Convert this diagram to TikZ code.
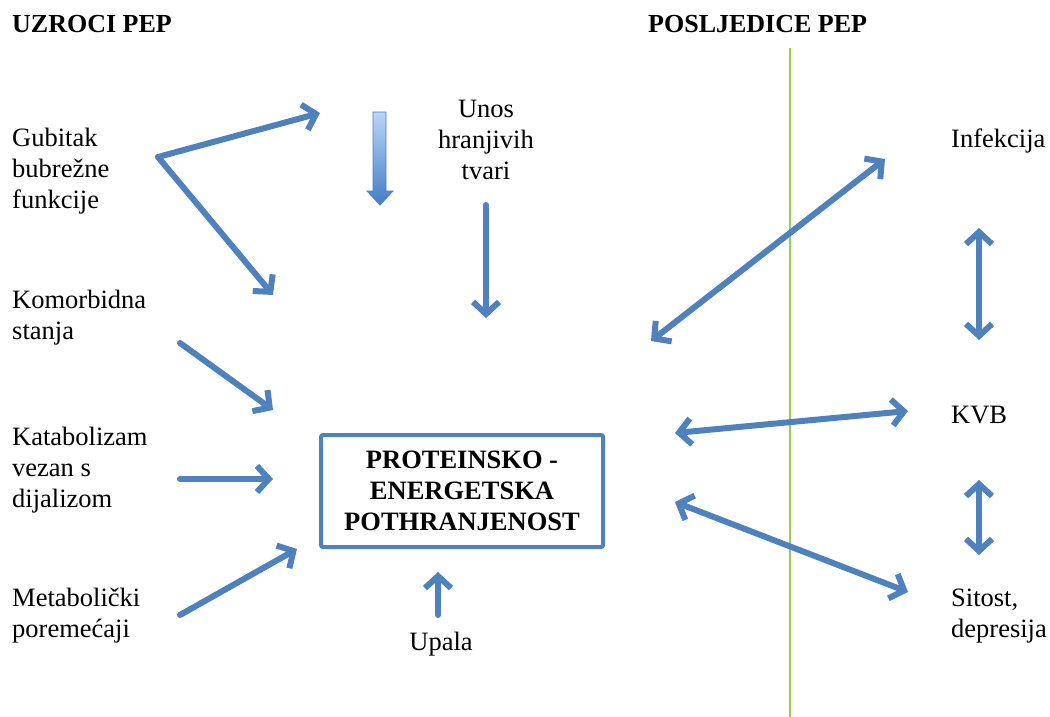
\documentclass[tikz,border=0pt]{standalone}
\usepackage{fontspec}
\setmainfont{Liberation Serif}
\usetikzlibrary{arrows.meta, positioning}

\definecolor{pepblue}{RGB}{79,129,189}
\definecolor{pepgreen}{RGB}{146,208,80}
\definecolor{pale}{RGB}{185,214,248}
\definecolor{midblue}{RGB}{135,182,238}
\definecolor{deepblue}{RGB}{66,124,200}

\begin{document}
\begin{tikzpicture}[
        x=1pt, y=-1pt,
        txt/.style={font=\fontsize{26.5}{31}\selectfont, align=left, anchor=west, inner sep=0pt},
        heading/.style={font=\fontsize{26}{31}\selectfont\bfseries, anchor=west, inner sep=0pt},
        link/.style={draw=pepblue, line width=6pt, line cap=round, line join=round,
            preaction={draw=black, opacity=0.15, transform canvas={shift={(1.5pt,-2pt)}}},
            -{Straight Barb[length=12pt,width=26pt]}},
        both/.style={link, {Straight Barb[length=12pt,width=26pt]}-{Straight Barb[length=12pt,width=26pt]}}
    ]
    \useasboundingbox (0,0) rectangle (1050,717);

    % Headings
    \node[heading] (uzroci) at (12,24) {UZROCI PEP};
    \node[heading] (posljedice) at (648,24) {POSLJEDICE PEP};

    % Dividing line
    \coordinate (divtop) at (790,48);
    \coordinate (divbot) at (790,717);
    \draw[pepgreen, line width=1.3pt] (divtop) -- (divbot);

    % Causes (left)
    \node[txt] (gubitak) at (12,171) {Gubitak\\bubrežne\\funkcije};
    \node[txt] (komorbid) at (12,318) {Komorbidna\\stanja};
    \node[txt] (katabol) at (12,470) {Katabolizam\\vezan s\\dijalizom};
    \node[txt] (metabol) at (12,616) {Metabolički\\poremećaji};
    \node[txt, align=center, anchor=center] (unos) at (486,140) {Unos\\hranjivih\\tvari};
    \node[txt, anchor=center] (upala) at (441,644) {Upala};

    % Consequences (right)
    \node[txt] (infekcija) at (951,141) {Infekcija};
    \node[txt] (kvb) at (951,415) {KVB};
    \node[txt] (sitost) at (951,616) {Sitost,\\depresija};

    % Central box
    \node[draw=pepblue, line width=4pt, rounded corners=2pt, minimum width=282pt, minimum height=112pt,
          font=\fontsize{26.5}{31}\selectfont\bfseries, align=center] (pep) at (462,491)
          {PROTEINSKO -\\ENERGETSKA\\POTHRANJENOST};

    % Block arrow (intake falls)
    \path[draw=pepblue, line width=0.8pt, top color=pale, middle color=midblue, bottom color=deepblue]
        (373,112) -- (386,112) -- (386,191) -- (393,191) -- (380,205) -- (367,191) -- (373,191) -- cycle;

    % Arrow end points
    \coordinate (gubS) at (158,157);
    \coordinate (gubUp) at (320,113);
    \coordinate (gubDn) at (273,295);
    \coordinate (unosS) at (486,205);
    \coordinate (unosE) at (486,318);
    \coordinate (komS) at (180,343);
    \coordinate (komE) at (273,410);
    \coordinate (katS) at (180,479);
    \coordinate (katE) at (273,479);
    \coordinate (metS) at (180,615);
    \coordinate (metE) at (297,549);
    \coordinate (upS) at (438,615);
    \coordinate (upE) at (438,572);
    \coordinate (infA) at (651,341);
    \coordinate (infB) at (885,159);
    \coordinate (kvbA) at (675,433);
    \coordinate (kvbB) at (908,411);
    \coordinate (sitA) at (675,502);
    \coordinate (sitB) at (908,592);
    \coordinate (v1a) at (979,228);
    \coordinate (v1b) at (979,340);
    \coordinate (v2a) at (979,480);
    \coordinate (v2b) at (979,555);

    % Arrows
    \draw[link] (gubS) -- (gubUp);
    \draw[link] (gubS) -- (gubDn);
    \draw[link] (unosS) -- (unosE);
    \draw[link] (komS) -- (komE);
    \draw[link] (katS) -- (katE);
    \draw[link] (metS) -- (metE);
    \draw[link] (upS) -- (upE);
    \draw[both] (infA) -- (infB);
    \draw[both] (kvbA) -- (kvbB);
    \draw[both] (sitA) -- (sitB);
    \draw[both] (v1a) -- (v1b);
    \draw[both] (v2a) -- (v2b);
\end{tikzpicture}
\end{document}
